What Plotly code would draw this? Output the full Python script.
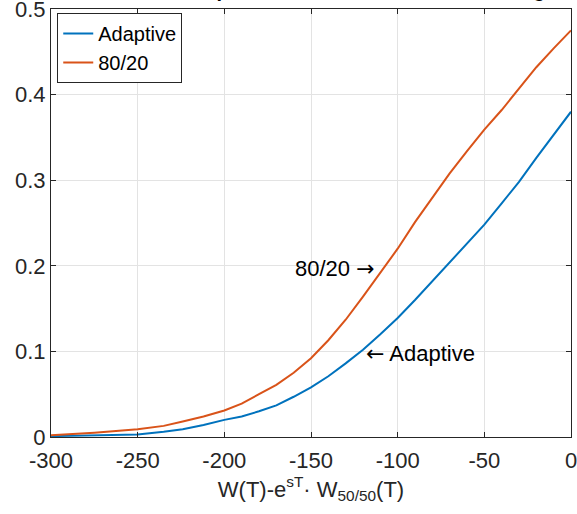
import plotly.graph_objects as go

# ---- data ----
x_8020 = [-300, -275, -250, -235, -224, -212, -200, -190, -180, -170, -160, -150, -140, -130, -120,
          -110, -100, -90, -80, -70, -60, -50, -40, -30, -20, -10, 0]
y_8020 = [0.002, 0.005, 0.009, 0.013, 0.018, 0.024, 0.031, 0.039, 0.050, 0.061, 0.075, 0.092, 0.113, 0.137, 0.164,
          0.192, 0.220, 0.251, 0.280, 0.308, 0.334, 0.359, 0.382, 0.407, 0.432, 0.454, 0.475]

x_adapt = [-300, -275, -250, -235, -224, -212, -200, -190, -180, -170, -160, -150, -140, -130, -120,
           -110, -100, -90, -80, -70, -60, -50, -40, -30, -20, -10, 0]
y_adapt = [0.001, 0.002, 0.003, 0.006, 0.009, 0.014, 0.020, 0.024, 0.030, 0.037, 0.047, 0.058, 0.071, 0.086, 0.102,
           0.120, 0.139, 0.160, 0.182, 0.204, 0.226, 0.248, 0.273, 0.298, 0.326, 0.353, 0.380]

x_ticks = [-300, -250, -200, -150, -100, -50, 0]
x_ticklabels = ["-300", "-250", "-200", "-150", "-100", "-50", "0"]
y_ticks = [0, 0.1, 0.2, 0.3, 0.4, 0.5]
y_ticklabels = ["0", "0.1", "0.2", "0.3", "0.4", "0.5"]

series_names = ["Adaptive", "80/20"]
title_text = "CDF of Outperformance vs 50/50 Rebalancing"
x_label = "W(T)-e<sup>sT</sup>· W<sub>50/50</sub>(T)"

ARROW_R = "<span style='font-family:DejaVu Sans'>→</span>"
ARROW_L = "<span style='font-family:DejaVu Sans'>←</span>"
label_8020 = ("80/20 " + ARROW_R, -112, 0.197)
label_adapt = (ARROW_L + " Adaptive", -119.5, 0.098)

FONT = "Arial, Liberation Sans, Helvetica, sans-serif"
AX = "#262626"
BLUE = "#0072BD"
ORANGE = "#D95319"

fig = go.Figure()
fig.add_trace(go.Scatter(x=x_adapt, y=y_adapt, mode="lines", name=series_names[0],
                         line=dict(color=BLUE, width=2)))
fig.add_trace(go.Scatter(x=x_8020, y=y_8020, mode="lines", name=series_names[1],
                         line=dict(color=ORANGE, width=2)))

axis_common = dict(showline=True, linecolor=AX, linewidth=1, mirror="ticks",
                   ticks="inside", ticklen=5, tickcolor=AX, tickwidth=1,
                   showgrid=True, gridcolor="#e3e3e3", gridwidth=1, zeroline=False,
                   automargin=False, ticklabeloverflow="allow",
                   tickfont=dict(family=FONT, size=22, color=AX))

fig.update_xaxes(range=[-300, 0], tickvals=x_ticks, ticktext=x_ticklabels, ticklabelstandoff=4,
                 title=dict(text=x_label, font=dict(family=FONT, size=22, color=AX), standoff=6),
                 **axis_common)
fig.update_yaxes(range=[0, 0.5], tickvals=y_ticks, ticktext=y_ticklabels, **axis_common)

fig.add_annotation(text=label_8020[0], x=label_8020[1], y=label_8020[2], xref="x", yref="y",
                   showarrow=False, xanchor="right", yanchor="middle",
                   font=dict(family=FONT, size=22, color="black"))
fig.add_annotation(text=label_adapt[0], x=label_adapt[1], y=label_adapt[2], xref="x", yref="y",
                   showarrow=False, xanchor="left", yanchor="middle",
                   font=dict(family=FONT, size=22, color="black"))

# title, mostly cut off at the top of the window as in the reference
fig.add_annotation(text="<b>" + title_text + "</b>", x=0.5346, y=1.0145, xref="paper", yref="paper",
                   showarrow=False, xanchor="center", yanchor="bottom",
                   font=dict(family=FONT, size=20, color="black"))

fig.update_layout(
    width=577, height=514,
    margin=dict(l=51, r=6, t=9, b=77, autoexpand=False),
    paper_bgcolor="white", plot_bgcolor="white",
    showlegend=True,
    legend=dict(x=0.012, y=0.9907, xanchor="left", yanchor="top",
                bgcolor="white", bordercolor=AX, borderwidth=1,
                font=dict(family=FONT, size=20, color="black"),
                itemwidth=30, tracegroupgap=0),
)

fig.write_html("out.html", config={"displayModeBar": False},
               post_script="document.body.style.margin='0';document.body.style.padding='0';")
